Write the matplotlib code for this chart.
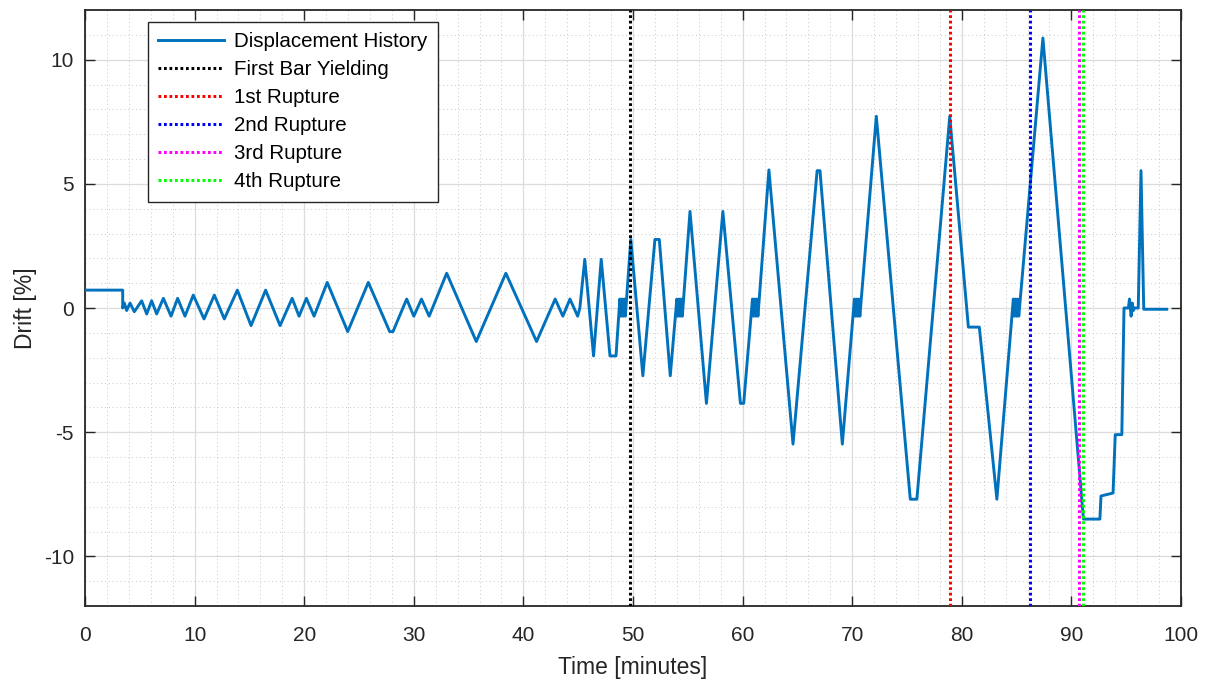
import matplotlib
matplotlib.use("Agg")
import matplotlib.pyplot as plt
from matplotlib.ticker import MultipleLocator

plt.rcParams['font.family'] = ['Liberation Sans', 'DejaVu Sans']
plt.rcParams['axes.unicode_minus'] = False

# Displacement history (time in minutes, drift in %)
time_min = [
    0.0, 3.44, 3.44, 3.59, 3.80, 4.11, 4.50, 5.17, 5.63, 6.08, 6.54,
    7.15, 7.85, 8.45, 9.12, 9.88, 10.86, 11.80, 12.71, 13.90, 15.15,
    16.48, 17.80, 18.90, 19.53, 20.20, 20.90, 22.10, 23.97, 25.85, 27.80,
    28.10, 29.35, 30.00, 30.70, 31.40, 33.00, 35.70, 38.40, 41.20, 42.90,
    43.60, 44.25, 44.95, 45.15, 45.60, 46.40, 47.10, 47.90, 48.45, 48.80,
    48.90, 49.00, 49.10, 49.20, 49.30, 49.80, 50.90, 52.00, 52.40, 53.40,
    54.00, 54.10, 54.20, 54.30, 54.40, 54.50, 55.20, 56.70, 58.20, 59.80,
    60.10, 60.90, 61.00, 61.10, 61.20, 61.30, 61.40, 62.40, 64.60, 66.80,
    67.06, 69.10, 70.20, 70.30, 70.40, 70.50, 70.60, 70.70, 72.20, 75.30,
    75.90, 78.90, 80.60, 81.60, 83.20, 84.70, 84.80, 84.90, 85.00, 85.10,
    85.20, 87.40, 91.10, 92.60, 92.70, 93.80, 94.00, 94.60, 94.80, 95.20,
    95.30, 95.45, 95.55, 95.65, 95.75, 96.10, 96.35, 96.60, 98.70,
]
drift_pct = [
    0.72, 0.72, 0.00, 0.20, -0.10, 0.20, -0.15, 0.29, -0.24, 0.29, -0.24,
    0.39, -0.33, 0.39, -0.33, 0.52, -0.44, 0.52, -0.44, 0.72, -0.71,
    0.72, -0.71, 0.39, -0.33, 0.39, -0.33, 1.03, -0.95, 1.03, -0.95,
    -0.95, 0.36, -0.33, 0.36, -0.33, 1.40, -1.35, 1.40, -1.35, 0.36,
    -0.33, 0.36, -0.33, 0.00, 1.96, -1.93, 1.96, -1.93, -1.93, 0.36,
    -0.33, 0.36, -0.33, 0.36, -0.33, 2.76, -2.73, 2.76, 2.76, -2.73,
    0.36, -0.33, 0.36, -0.33, 0.36, -0.33, 3.89, -3.84, 3.89, -3.84,
    -3.84, 0.36, -0.33, 0.36, -0.33, 0.36, -0.33, 5.56, -5.48, 5.53,
    5.53, -5.48, 0.36, -0.33, 0.36, -0.33, 0.36, -0.33, 7.72, -7.70,
    -7.70, 7.72, -0.77, -0.77, -7.70, 0.36, -0.33, 0.36, -0.33, 0.36,
    -0.33, 10.87, -8.50, -8.50, -7.57, -7.45, -5.10, -5.10, 0.00, 0.00,
    0.36, -0.33, 0.20, -0.10, 0.00, 0.00, 5.53, -0.05, -0.05,
]

# Damage events (time in minutes)
event_names = ['First Bar Yielding', '1st Rupture', '2nd Rupture',
               '3rd Rupture', '4th Rupture']
event_times = [49.75, 78.92, 86.22, 90.72, 91.09]
event_colors = ['#000000', '#ff0000', '#0000ff', '#ff00ff', '#00ff00']

fig = plt.figure(figsize=(12.09, 6.86), dpi=100)
ax = fig.add_axes([85 / 1209, 1 - 606 / 686, 1096 / 1209, 596 / 686])

ax.plot(time_min, drift_pct, color='#0072BD', lw=2.1,
        label='Displacement History', zorder=3)
for name, t, c in zip(event_names, event_times, event_colors):
    ax.axvline(t, color=c, ls=(0, (0.9, 0.9)), lw=2.2, label=name, zorder=4)

ax.set_xlim(0, 100)
ax.set_ylim(-12, 12)
ax.xaxis.set_major_locator(MultipleLocator(10))
ax.xaxis.set_minor_locator(MultipleLocator(2))
ax.yaxis.set_major_locator(MultipleLocator(5))
ax.yaxis.set_minor_locator(MultipleLocator(1))

ax.grid(True, which='major', color='#dcdcdc', lw=0.9, ls='-', zorder=0)
ax.grid(True, which='minor', color='#c8c8c8', lw=0.7, ls=(0, (1, 3)), zorder=0)
ax.set_axisbelow(True)

dark = '#262626'
for s in ax.spines.values():
    s.set_color(dark)
    s.set_linewidth(1.3)
ax.tick_params(which='major', direction='in', length=7.5, width=1.0,
               colors=dark, labelsize=15, top=True, right=True)
ax.tick_params(axis='x', which='major', pad=14.5)
ax.tick_params(axis='y', which='major', pad=8)
ax.tick_params(which='minor', length=0, top=True, right=True)

ax.set_xlabel('Time [minutes]', fontsize=16.5, color=dark, labelpad=8)
ax.set_ylabel('Drift [%]', fontsize=16.5, color=dark, labelpad=5)

leg = ax.legend(loc='upper left', bbox_to_anchor=(0.0575, 0.980),
                fontsize=14.8, handlelength=3.2, handletextpad=0.5,
                labelspacing=0.44, borderpad=0.5, borderaxespad=0,
                fancybox=False, framealpha=1, edgecolor=dark)
leg.get_frame().set_linewidth(1.0)

fig.savefig('out.png', dpi=100)
